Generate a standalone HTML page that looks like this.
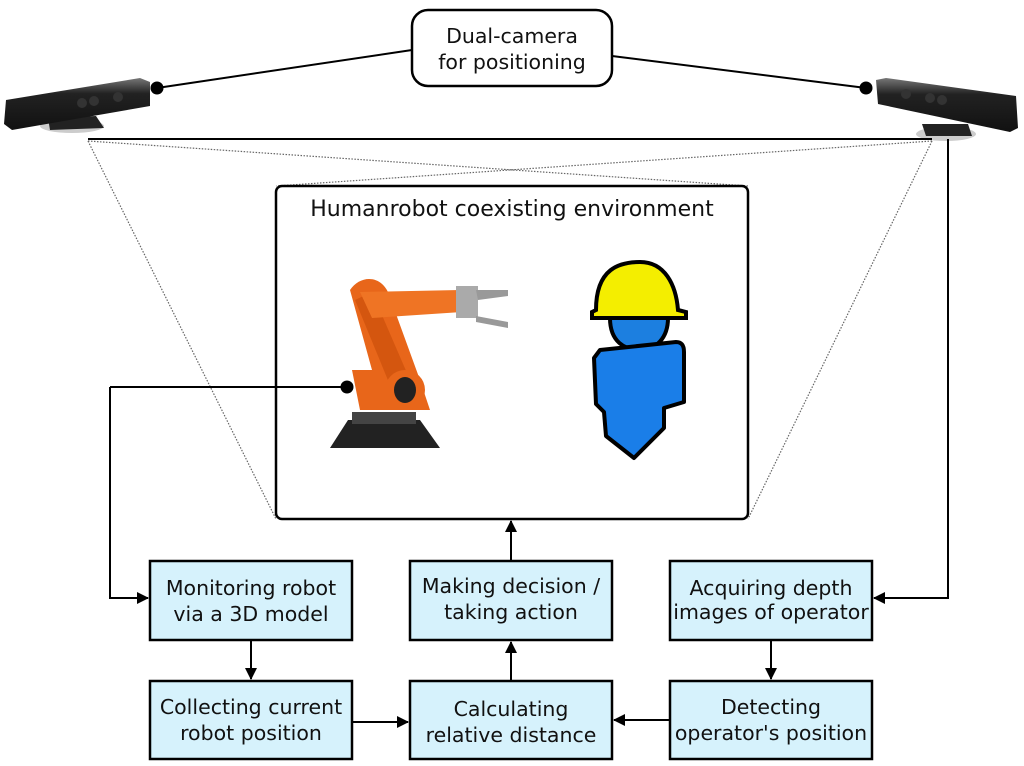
<!DOCTYPE html>
<html><head><meta charset="utf-8"><style>
html,body{margin:0;padding:0;background:#fff;}
svg{display:block;}
text{font-family:"DejaVu Sans","Liberation Sans",sans-serif;font-size:20.5px;fill:#111;}
</style></head><body>
<svg width="1024" height="766" viewBox="0 0 1024 766" xmlns="http://www.w3.org/2000/svg">
<defs>
<marker id="ah" markerWidth="12" markerHeight="12" refX="11" refY="6" orient="auto" markerUnits="userSpaceOnUse">
<path d="M0,0 L12,6 L0,12 Z" fill="#000"/></marker>
<linearGradient id="cam" x1="0" y1="0" x2="0" y2="1"><stop offset="0" stop-color="#777"/><stop offset="0.3" stop-color="#222"/><stop offset="1" stop-color="#111"/></linearGradient>
</defs>

<line x1="157" y1="88" x2="412" y2="50" stroke="#000" stroke-width="2"/>
<line x1="866" y1="88" x2="612" y2="56" stroke="#000" stroke-width="2"/>
<circle cx="157" cy="88" r="6.5" fill="#000"/>
<circle cx="866" cy="88" r="6.5" fill="#000"/>
<rect x="412" y="10" width="200" height="76" rx="16" fill="#fff" stroke="#000" stroke-width="2.5"/>
<text x="512" y="43" text-anchor="middle">Dual-camera</text>
<text x="512" y="69" text-anchor="middle">for positioning</text>

<ellipse cx="72" cy="126" rx="32" ry="7" fill="#ccc"/>
<path d="M48,118 L96,116 L104,128 L50,130 Z" fill="#222"/>
<path d="M6,100 L140,78 L150,82 L150,106 L12,130 L4,124 Z" fill="url(#cam)"/>
<circle cx="82" cy="103" r="5" fill="#333"/><circle cx="94" cy="101" r="5" fill="#333"/><circle cx="118" cy="97" r="5" fill="#333"/>
<ellipse cx="946" cy="134" rx="30" ry="7" fill="#ccc"/>
<path d="M922,124 L968,124 L972,136 L926,136 Z" fill="#222"/>
<path d="M876,80 L886,78 L1016,96 L1018,128 L1010,132 L878,104 Z" fill="url(#cam)"/>
<circle cx="906" cy="94" r="5" fill="#333"/><circle cx="930" cy="98" r="5" fill="#333"/><circle cx="942" cy="100" r="5" fill="#333"/>

<line x1="88" y1="139" x2="932" y2="139" stroke="#000" stroke-width="2"/>
<g stroke="#666" stroke-width="1.2" stroke-dasharray="1.5,1.5" fill="none">
<line x1="88" y1="141" x2="276" y2="519"/>
<line x1="88" y1="141" x2="748" y2="186"/>
<line x1="932" y1="141" x2="276" y2="186"/>
<line x1="932" y1="141" x2="748" y2="519"/>
</g>

<rect x="276" y="186" width="472" height="333" rx="6" fill="#fff" stroke="#000" stroke-width="2.5"/>
<text x="512" y="216" text-anchor="middle" style="font-size:22px">Humanrobot coexisting environment</text>

<path d="M330,448 L348,420 L420,420 L440,448 Z" fill="#222"/>
<rect x="352" y="412" width="64" height="12" fill="#444"/>
<path d="M350,290 C360,275 380,275 388,292 L420,380 L430,410 L360,410 L352,370 L372,370 Z" fill="#e8661a"/>
<path d="M355,300 L372,292 L410,380 L392,390 Z" fill="#d4560f"/>
<path d="M360,292 L460,290 L462,312 L372,318 Z" fill="#ef7424"/>
<rect x="456" y="286" width="22" height="32" fill="#aaa"/>
<path d="M476,290 L508,290 L508,296 L478,300 Z M476,316 L508,322 L508,328 L476,322 Z" fill="#999"/>
<ellipse cx="405" cy="390" rx="20" ry="20" fill="#e8661a"/>
<ellipse cx="405" cy="390" rx="11" ry="13" fill="#222"/>
<path d="M110,387 L347,387" stroke="#000" stroke-width="2" fill="none"/>
<circle cx="347" cy="387" r="6.5" fill="#000"/>

<path d="M596,310 C596,268 620,262 640,262 C665,262 676,285 678,310 L686,312 L686,318 L592,318 L592,312 Z" fill="#f4ee00" stroke="#000" stroke-width="4"/>
<path d="M610,318 C610,342 625,350 640,350 C656,350 668,338 668,318 Z" fill="#1c7fe0" stroke="#000" stroke-width="4"/>
<path d="M600,350 L676,342 C682,342 684,346 684,352 L684,402 L664,408 L664,428 L634,458 L606,436 L604,412 L596,404 L594,358 Z" fill="#1a7ee8" stroke="#000" stroke-width="4" stroke-linejoin="round"/>

<path d="M110,387 L110,598 L148,598" stroke="#000" stroke-width="2" fill="none" marker-end="url(#ah)"/>
<path d="M948,139 L948,598 L874,598" stroke="#000" stroke-width="2" fill="none" marker-end="url(#ah)"/>
<line x1="251" y1="640" x2="251" y2="679" stroke="#000" stroke-width="2" marker-end="url(#ah)"/>
<line x1="771" y1="640" x2="771" y2="679" stroke="#000" stroke-width="2" marker-end="url(#ah)"/>
<line x1="352" y1="722" x2="408" y2="722" stroke="#000" stroke-width="2" marker-end="url(#ah)"/>
<line x1="670" y1="720" x2="614" y2="720" stroke="#000" stroke-width="2" marker-end="url(#ah)"/>
<line x1="511" y1="681" x2="511" y2="642" stroke="#000" stroke-width="2" marker-end="url(#ah)"/>
<line x1="511" y1="561" x2="511" y2="521" stroke="#000" stroke-width="2" marker-end="url(#ah)"/>

<g fill="#d6f2fc" stroke="#000" stroke-width="2.5">
<rect x="150" y="561" width="202" height="79"/>
<rect x="410" y="561" width="202" height="79"/>
<rect x="670" y="561" width="202" height="79"/>
<rect x="150" y="681" width="202" height="78"/>
<rect x="410" y="681" width="202" height="78"/>
<rect x="670" y="681" width="202" height="78"/>
</g>
<g text-anchor="middle">
<text x="251" y="595">Monitoring robot</text><text x="251" y="621">via a 3D model</text>
<text x="511" y="593">Making decision /</text><text x="511" y="619">taking action</text>
<text x="771" y="595">Acquiring depth</text><text x="771" y="619">images of operator</text>
<text x="251" y="714">Collecting current</text><text x="251" y="740">robot position</text>
<text x="511" y="716">Calculating</text><text x="511" y="742">relative distance</text>
<text x="771" y="714">Detecting</text><text x="771" y="740">operator's position</text>
</g>
</svg>
</body></html>
